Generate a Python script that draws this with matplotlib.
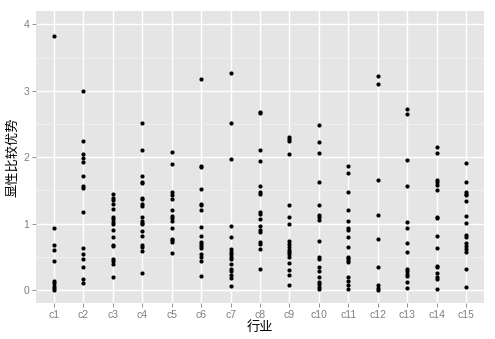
#!/usr/bin/env python3
import matplotlib
matplotlib.use("Agg")
import matplotlib.pyplot as plt
from matplotlib.ticker import MultipleLocator

plt.rcParams['font.family'] = ['Noto Sans CJK SC', 'DejaVu Sans']

industries = ["c%d" % i for i in range(1, 16)]

rca = {
    "c1": [3.83, 0.94, 0.68, 0.61, 0.44, 0.13, 0.10, 0.06, 0.03, 0.00],
    "c2": [2.99, 2.25, 2.05, 1.98, 1.92, 1.72, 1.57, 1.54, 1.18, 0.63, 0.54,
           0.46, 0.35, 0.16, 0.10],
    "c3": [1.44, 1.38, 1.35, 1.30, 1.22, 1.10, 1.07, 1.03, 1.00, 0.90, 0.80,
           0.68, 0.66, 0.46, 0.44, 0.39, 0.19],
    "c4": [2.52, 2.11, 1.72, 1.63, 1.61, 1.39, 1.37, 1.29, 1.27, 1.10, 1.04,
           1.01, 0.99, 0.89, 0.81, 0.68, 0.65, 0.59, 0.25],
    "c5": [2.08, 1.90, 1.47, 1.43, 1.37, 1.21, 1.12, 1.09, 1.04, 0.93, 0.77,
           0.75, 0.72, 0.56],
    "c6": [3.18, 1.87, 1.85, 1.52, 1.30, 1.28, 1.20, 0.95, 0.81, 0.72, 0.69,
           0.66, 0.63, 0.54, 0.49, 0.44, 0.21],
    "c7": [3.26, 2.52, 1.97, 0.96, 0.80, 0.62, 0.57, 0.54, 0.50, 0.47, 0.39,
           0.31, 0.28, 0.23, 0.18, 0.06],
    "c8": [2.68, 2.67, 2.11, 1.94, 1.56, 1.48, 1.45, 1.17, 1.15, 1.07, 0.97,
           0.91, 0.88, 0.73, 0.69, 0.62, 0.32],
    "c9": [2.30, 2.27, 2.25, 2.05, 1.28, 1.10, 0.99, 0.74, 0.70, 0.65, 0.61,
           0.57, 0.54, 0.50, 0.41, 0.30, 0.22, 0.08],
    "c10": [2.48, 2.23, 2.06, 1.63, 1.28, 1.13, 1.10, 1.05, 0.74, 0.50, 0.46,
            0.34, 0.29, 0.20, 0.12, 0.09, 0.05, 0.02],
    "c11": [1.87, 1.76, 1.47, 1.20, 1.04, 0.93, 0.90, 0.80, 0.65, 0.50, 0.48,
            0.45, 0.42, 0.19, 0.14, 0.07, 0.01],
    "c12": [3.22, 3.10, 1.66, 1.13, 0.77, 0.34, 0.07, 0.03, 0.00],
    "c13": [2.73, 2.65, 1.96, 1.57, 1.03, 0.93, 0.71, 0.57, 0.31, 0.28, 0.24,
            0.21, 0.12, 0.03],
    "c14": [2.16, 2.07, 1.66, 1.62, 1.58, 1.51, 1.10, 1.08, 0.81, 0.63, 0.36,
            0.34, 0.26, 0.19, 0.17, 0.01],
    "c15": [1.91, 1.63, 1.48, 1.45, 1.43, 1.34, 1.12, 1.01, 0.83, 0.80, 0.71,
            0.67, 0.62, 0.58, 0.32, 0.05],
}


def main():
    fig = plt.figure(figsize=(4.95, 3.39), dpi=100)
    ax = fig.add_axes([36 / 495, 1 - 303 / 339, 448 / 495, 292 / 339])
    ax.set_facecolor("#E5E5E5")

    for i, name in enumerate(industries):
        vals = rca[name]
        ax.scatter([i + 1] * len(vals), vals, s=9, color="black",
                   linewidths=0, zorder=3)

    ax.set_xlim(0.4, 15.6)
    ax.set_ylim(-0.195, 4.2)
    ax.set_xticks(range(1, 16))
    ax.set_xticklabels(industries)
    ax.yaxis.set_major_locator(MultipleLocator(1))
    ax.yaxis.set_minor_locator(MultipleLocator(0.5))

    ax.grid(which="major", color="white", linewidth=1.0, zorder=1)
    ax.grid(which="minor", axis="y", color="#F2F2F2", linewidth=0.6, zorder=1)
    ax.set_axisbelow(True)
    for s in ax.spines.values():
        s.set_visible(False)

    ax.tick_params(which="major", length=3, width=0.6, color="#7F7F7F",
                   labelcolor="#7F7F7F", labelsize=7.5, pad=2)
    ax.tick_params(which="minor", length=0)
    for lbl in ax.get_xticklabels() + ax.get_yticklabels():
        lbl.set_family(["Liberation Sans", "DejaVu Sans"])

    ax.set_xlabel("行业", fontsize=9.5, labelpad=1)
    ax.set_ylabel("显性比较优势", fontsize=9.5, labelpad=3)

    fig.savefig("out.png", dpi=100)


if __name__ == "__main__":
    main()
